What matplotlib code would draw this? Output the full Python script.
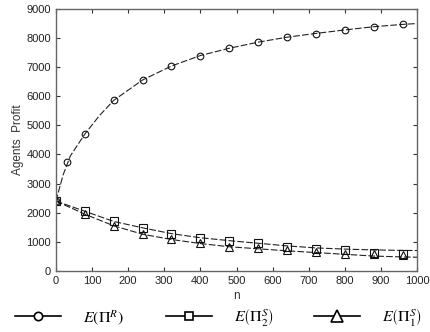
import matplotlib
matplotlib.use("Agg")
import matplotlib.pyplot as plt
from matplotlib.lines import Line2D

plt.rcParams['font.family'] = ['Liberation Sans', 'DejaVu Sans']
plt.rcParams['mathtext.fontset'] = 'stix'

# curve values (dashed lines)
n_line = [0, 20, 40, 80, 120, 160, 240, 320, 400, 480, 560, 640, 720, 800, 880, 960, 1000]
r_line = [2400, 3300, 3950, 4700, 5330, 5860, 6560, 7040, 7400, 7650, 7860, 8030, 8160, 8280, 8390, 8470, 8500]
n_s = [0, 80, 160, 240, 320, 400, 480, 560, 640, 720, 800, 880, 960, 1000]
s2_line = [2400, 2050, 1700, 1480, 1280, 1140, 1040, 950, 860, 790, 750, 720, 705, 700]
s1_line = [2400, 1950, 1550, 1260, 1080, 940, 830, 760, 690, 630, 570, 510, 480, 470]

# marker values
n_r_mk = [0, 30, 80, 160, 240, 320, 400, 480, 560, 640, 720, 800, 880, 960]
r_mk = [2400, 3740, 4710, 5870, 6560, 7030, 7400, 7650, 7860, 8030, 8155, 8270, 8395, 8475]
n_mk = [0, 80, 160, 240, 320, 400, 480, 560, 640, 720, 800, 880, 960]
s2_mk = [2400, 2060, 1710, 1490, 1280, 1145, 1030, 950, 815, 745, 720, 600, 590]
s1_mk = [2400, 1960, 1560, 1270, 1090, 960, 825, 780, 720, 665, 585, 580, 560]

labels = [r'$E\left(\Pi^R\right)$', r'$E\left(\Pi_2^S\right)$', r'$E\left(\Pi_1^S\right)$']

fig = plt.figure(figsize=(4.3, 3.32), dpi=100)
ax = fig.add_axes([0.130, 0.184, 0.840, 0.789])

lc = '#222222'
ax.plot(n_line, r_line, ls=(0, (6, 2)), color=lc, lw=0.8)
ax.plot(n_s, s2_line, ls=(0, (6, 2)), color=lc, lw=0.8)
ax.plot(n_s, s1_line, ls=(0, (6, 2)), color=lc, lw=0.8)
ax.plot(n_r_mk, r_mk, ls='none', marker='o', ms=4.8, mfc='none', mec='#111111', mew=0.8)
ax.plot(n_mk, s2_mk, ls='none', marker='s', ms=5.2, mfc='none', mec='#111111', mew=0.8)
ax.plot(n_mk, s1_mk, ls='none', marker='^', ms=5.5, mfc='none', mec='#111111', mew=0.8)

ax.set_xlim(0, 1000)
ax.set_ylim(0, 9000)
ax.set_xticks(range(0, 1001, 100))
ax.set_yticks(range(0, 9001, 1000))
ax.tick_params(direction='in', top=True, right=True, labelsize=8, length=3,
               colors='#333333', labelcolor='#222222')
for s in ax.spines.values():
    s.set_color('#666666')
    s.set_linewidth(1.0)
ax.set_xlabel('n', fontsize=8.5, color='#333333', labelpad=3)
ax.set_ylabel('Agents  Profit', fontsize=8.5, color='#333333', labelpad=2)

handles = [
    Line2D([], [], color='k', lw=1.2, marker='o', ms=6, mfc='white', mec='k', mew=1.2),
    Line2D([], [], color='k', lw=1.2, marker='s', ms=5.5, mfc='white', mec='k', mew=1.2),
    Line2D([], [], color='k', lw=1.2, marker='^', ms=8, mfc='white', mec='k', mew=1.2),
]
xpos = [15 / 430, 166 / 430, 314 / 430]
for h, lab, x in zip(handles, labels, xpos):
    fig.legend([h], [lab], loc='center left', bbox_to_anchor=(x, 0.045),
               frameon=False, fontsize=11.5, handlelength=2.9, handletextpad=1.35,
               borderpad=0, borderaxespad=0)

fig.savefig('out.png', dpi=100)
